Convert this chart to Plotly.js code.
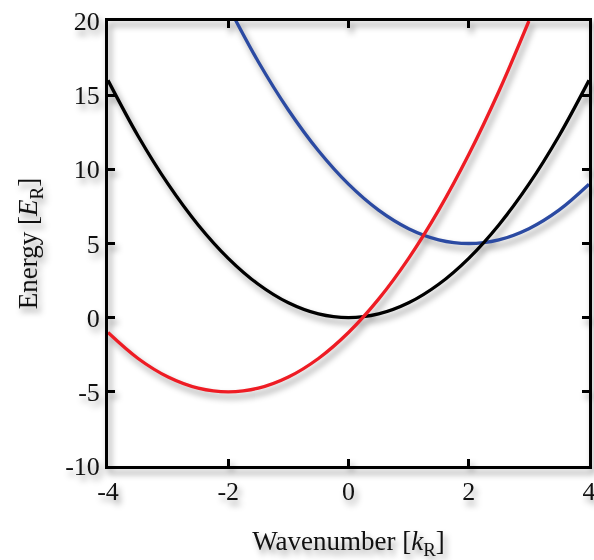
<!DOCTYPE html>
<html>
<head>
<meta charset="utf-8">
<script src="https://cdn.plot.ly/plotly-3.0.1.min.js"></script>
<style>
html,body{margin:0;padding:0;background:#fff;}
#chart{width:594px;height:560px;}
#chart .main-svg{filter:drop-shadow(3px 5px 3px rgba(0,0,0,0.4));}
</style>
</head>
<body>
<div id="chart"></div>
<script>
const xBlack = [-4,-3.5,-3,-2.5,-2,-1.5,-1,-0.5,0,0.5,1,1.5,2,2.5,3,3.5,4];
const yBlack = [16,12.25,9,6.25,4,2.25,1,0.25,0,0.25,1,2.25,4,6.25,9,12.25,16];
const xRed = [-4,-3.5,-3,-2.5,-2,-1.5,-1,-0.5,0,0.5,1,1.5,2,2.5,3];
const yRed = [-1,-2.75,-4,-4.75,-5,-4.75,-4,-2.75,-1,1.25,4,7.25,11,15.25,20];
const xBlue = [-2,-1.5,-1,-0.5,0,0.5,1,1.5,2,2.5,3,3.5,4];
const yBlue = [21,17.25,14,11.25,9,7.25,6,5.25,5,5.25,6,7.25,9];
const xTicks = [-4,-2,0,2,4];
const yTicks = [-10,-5,0,5,10,15,20];

const tickFont = {family:'"Liberation Serif", "DejaVu Serif", serif', size:26, color:'#111'};
const titleFont = {family:'"Liberation Serif", "DejaVu Serif", serif', size:27, color:'#111'};
const mk = (x,y,c)=>({x:x,y:y,type:'scatter',mode:'lines',line:{color:c,width:3.3,shape:'spline',smoothing:1},hoverinfo:'none'});
const data = [mk(xBlue,yBlue,'#2b4aa2'), mk(xBlack,yBlack,'#000000'), mk(xRed,yRed,'#ee1c24')];
const axBase = {showgrid:false,zeroline:false,showline:true,linecolor:'#000',linewidth:3,mirror:'ticks',ticks:'inside',ticklen:7,tickwidth:3,tickcolor:'#000',tickfont:tickFont,ticklabeloverflow:'allow',automargin:false};
const layout = {
  width:594,height:560,
  margin:{l:108,r:5,t:21,b:94},
  paper_bgcolor:'rgba(0,0,0,0)',plot_bgcolor:'rgba(0,0,0,0)',
  showlegend:false,font:tickFont,
  xaxis:Object.assign({},axBase,{range:[-4,4],tickvals:xTicks,ticktext:xTicks.map(String),
    title:{text:'Wavenumber [<i>k</i><sub>R</sub>]',font:titleFont,standoff:29}}),
  yaxis:Object.assign({},axBase,{range:[-10,20],tickvals:yTicks,ticktext:yTicks.map(String),
    title:{text:'Energy [<i>E</i><sub>R</sub>]',font:titleFont,standoff:20}})
};
Plotly.newPlot('chart',data,layout,{staticPlot:true});
</script>
</body>
</html>
